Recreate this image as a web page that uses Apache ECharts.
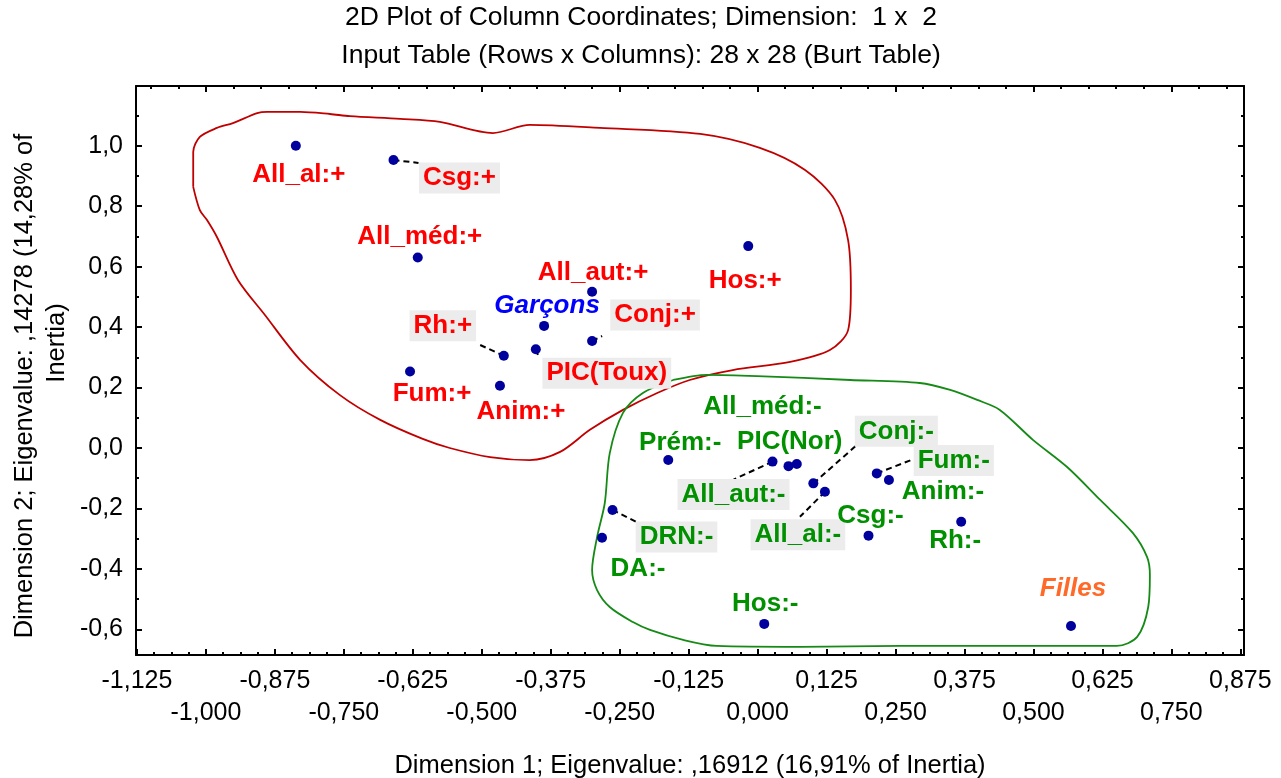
<!DOCTYPE html>
<html><head><meta charset="utf-8">
<script src="https://cdn.jsdelivr.net/npm/echarts@6/dist/echarts.min.js"></script>
<style>html,body{margin:0;padding:0;background:#fff}#c{width:1281px;height:778px}</style>
</head><body><div id="c"></div>
<script>
const FONT = '"Liberation Sans", Arial, sans-serif';

// "+" modalities (Garçons side)
const redNames = ['All_al:+','Csg:+','All_méd:+','All_aut:+','Conj:+','PIC(Toux)','Rh:+','Fum:+','Anim:+','Hos:+'];
const redX = [-0.837,-0.660,-0.616,-0.300,-0.300,-0.402,-0.460,-0.630,-0.467,-0.017];
const redY = [1.000,0.953,0.630,0.517,0.354,0.327,0.305,0.253,0.206,0.668];

// "-" modalities (Filles side)
const greenNames = ['Prém:-','All_aut:-','All_méd:-','PIC(Nor)','Conj:-','All_al:-','Fum:-','Anim:-','Csg:-','Rh:-','DRN:-','DA:-','Hos:-'];
const greenX = [-0.162,0.027,0.056,0.071,0.101,0.122,0.216,0.238,0.201,0.369,-0.263,-0.282,0.012];
const greenY = [-0.040,-0.045,-0.060,-0.053,-0.117,-0.145,-0.084,-0.106,-0.290,-0.244,-0.205,-0.297,-0.582];

// sex modalities
const sexNames = ['Garçons','Filles'];
const sexX = [-0.387,0.568];
const sexY = [0.404,-0.589];

// hand-drawn group outlines (data coordinates)
const redHullX = [-1.023,-1.023,-1.011,-0.980,-0.951,-0.907,-0.889,-0.829,-0.775,-0.739,-0.648,-0.576,-0.480,-0.413,-0.286,-0.104,0.004,0.086,0.140,0.164,0.169,0.164,0.131,0.059,-0.045,-0.123,-0.182,-0.244,-0.304,-0.358,-0.413,-0.485,-0.558,-0.607,-0.684,-0.757,-0.829,-0.893,-0.942,-0.980,-0.998,-1.011,-1.023];
const redHullY = [0.864,0.979,1.029,1.059,1.075,1.108,1.112,1.112,1.105,1.098,1.089,1.079,1.042,1.069,1.059,1.039,0.993,0.920,0.821,0.688,0.523,0.390,0.324,0.285,0.258,0.225,0.182,0.126,0.060,-0.013,-0.040,-0.030,0.000,0.030,0.093,0.175,0.291,0.440,0.556,0.698,0.754,0.787,0.864];
const greenHullX = [-0.153,-0.092,-0.001,0.168,0.294,0.349,0.398,0.439,0.499,0.561,0.621,0.680,0.706,0.711,0.708,0.688,0.651,0.258,0.077,-0.074,-0.135,-0.195,-0.226,-0.268,-0.291,-0.300,-0.291,-0.277,-0.268,-0.244,-0.208,-0.153];
const greenHullY = [0.225,0.242,0.238,0.225,0.215,0.192,0.159,0.126,0.027,-0.063,-0.172,-0.281,-0.361,-0.420,-0.526,-0.625,-0.655,-0.655,-0.658,-0.655,-0.635,-0.602,-0.576,-0.526,-0.470,-0.404,-0.295,-0.182,-0.017,0.116,0.182,0.225];

// tick labels
const xTickRow1 = [-1.125,-0.875,-0.625,-0.375,-0.125,0.125,0.375,0.625,0.875];
const xTickRow2 = [-1.0,-0.75,-0.5,-0.25,0.0,0.25,0.5,0.75];
const yTicks = [-0.6,-0.4,-0.2,0.0,0.2,0.4,0.6,0.8,1.0];

// layout: label offsets in px from point, boxed labels, leader lines
const redOffsets = [[3,29],[66,18],[2,-21],[1,-19],[63,-26],[71,24],[-61,-30],[22,22],[21,26],[-3,35]];
const redBoxed = [false,true,false,false,true,true,true,false,false,false];
const greenOffsets = [[12,-17],[-39,33],[-26,-59],[-7,-22],[83,-52],[-27,43],[77,-13],[54,12],[2,-20],[-6,19],[64,27],[36,31],[1,-20]];
const greenBoxed = [false,true,false,false,true,true,true,false,false,false,true,false,false];
const sexOffsets = [[3,-20],[2,-37]];
const leaderNames = ['Csg:+','Conj:+','Rh:+','PIC(Toux)','All_aut:-','Conj:-','All_al:-','Fum:-','DRN:-'];
const leaderEnds = [[25,3],[10,-5],[-24,-11],[3,8],[-39,18],[42,-37],[-25,25],[36,-14],[24,12]];

const XMIN = -1.1267, XMAX = 0.8816, YMIN = -0.6849, YMAX = 1.1977;

function range(a, b, step, exclude) {
  const out = [];
  for (let i = 0; a + i * step <= b + 1e-9; i++) {
    const v = +(a + i * step).toFixed(6);
    if (!exclude.some(e => Math.abs(e - v) < 1e-6)) out.push(v);
  }
  return out;
}
const xMajorAll = xTickRow1.concat(xTickRow2);
const xMinorBottom = range(-1.125, 0.875, 0.03125, xMajorAll);
const xMinorTop = range(-1.1, 0.85, 0.05, xTickRow2);
const yMinor = range(-0.6, 1.1, 0.1, yTicks);

const blk = {color: '#000', width: 2};
function xAx(position, ticks, len, labels, margin, showLine) {
  return {
    type: 'value', min: XMIN, max: XMAX, position: position,
    axisLine: {show: showLine, onZero: false, lineStyle: blk},
    axisTick: {show: ticks.length > 0, inside: true, length: len, customValues: ticks, lineStyle: blk},
    axisLabel: labels ? {show: true, customValues: labels, margin: margin, fontSize: 25, fontFamily: FONT, color: '#000',
      formatter: v => v.toFixed(3).replace('.', ',')} : {show: false},
    splitLine: {show: false}
  };
}
function yAx(position, ticks, len, labels, showLine) {
  return {
    type: 'value', min: YMIN, max: YMAX, position: position,
    axisLine: {show: showLine, onZero: false, lineStyle: blk},
    axisTick: {show: true, inside: true, length: len, customValues: ticks, lineStyle: blk},
    axisLabel: labels ? {show: true, customValues: labels, margin: 13, fontSize: 25, fontFamily: FONT, color: '#000',
      formatter: v => v.toFixed(1).replace('.', ',')} : {show: false},
    splitLine: {show: false}
  };
}

function pts(names, xs, ys, boxed, colors) {
  return names.map((n, i) => {
    const lab = (boxed && boxed[i]) ? {backgroundColor: '#ececec', padding: [2, 4, 3, 4]} : {};
    if (colors) lab.color = colors[i];
    return {name: n, value: [xs[i], ys[i]], label: lab};
  });
}
function zip(xs, ys) { return xs.map((x, i) => [x, ys[i]]); }
function findPoint(n) {
  let i = redNames.indexOf(n);
  if (i >= 0) return [redX[i], redY[i]];
  i = greenNames.indexOf(n);
  return [greenX[i], greenY[i]];
}

const labelBase = {show: true, position: 'inside', formatter: '{b}', fontSize: 26, fontWeight: 'bold', fontFamily: FONT, lineHeight: 26};
const dotStyle = {color: '#00009c', opacity: 1};
const txt = (t, x, y, size, rot) => ({type: 'text', x: x, y: y, rotation: rot || 0,
  style: {text: t, font: size + 'px ' + FONT, fill: '#000', textAlign: 'center', textVerticalAlign: 'middle', align: 'center', verticalAlign: 'middle'}});

const chart = echarts.init(document.getElementById('c'), null, {renderer: 'canvas'});
chart.setOption({
  animation: false,
  backgroundColor: '#fff',
  grid: {left: 136, right: 37, top: 86, bottom: 123, containLabel: false},
  xAxis: [
    xAx('bottom', xMajorAll, 6, xTickRow1, 14, true),
    xAx('bottom', [], 0, xTickRow2, 46, false),
    xAx('bottom', xMinorBottom, 3, null, 0, false),
    xAx('top', xTickRow2, 6, null, 0, true),
    xAx('top', xMinorTop, 3, null, 0, false)
  ],
  yAxis: [
    yAx('left', yTicks, 6, yTicks, true),
    yAx('left', yMinor, 3, null, false),
    yAx('right', yTicks, 6, null, true),
    yAx('right', yMinor, 3, null, false)
  ],
  graphic: [
    txt('2D Plot of Column Coordinates; Dimension:  1 x  2', 641, 18, 26.5),
    txt('Input Table (Rows x Columns): 28 x 28 (Burt Table)', 641, 56, 26.5),
    txt('Dimension 1; Eigenvalue: ,16912 (16,91% of Inertia)', 690, 766, 25.5),
    txt('Dimension 2; Eigenvalue: ,14278 (14,28% of', 25, 386, 25.5, Math.PI / 2),
    txt('Inertia)', 57, 343, 25.5, Math.PI / 2)
  ],
  series: [
    {type: 'line', data: zip(redHullX, redHullY), smooth: 0.3, symbol: 'none', silent: true, z: 1,
      lineStyle: {color: '#c00000', width: 1.8}},
    {type: 'line', data: zip(greenHullX, greenHullY), smooth: 0.3, symbol: 'none', silent: true, z: 1,
      lineStyle: {color: '#168a16', width: 1.8}},
    {type: 'custom', silent: true, z: 2, data: leaderNames.map(findPoint),
      renderItem: (params, api) => {
        const p = api.coord([api.value(0), api.value(1)]);
        const o = leaderEnds[params.dataIndex];
        return {type: 'line', shape: {x1: p[0], y1: p[1], x2: p[0] + o[0], y2: p[1] + o[1]},
          style: {stroke: '#000', lineWidth: 2, lineDash: [6, 4], fill: null}};
      }},
    {type: 'scatter', data: pts(redNames, redX, redY, redBoxed), symbolSize: 10, itemStyle: dotStyle, z: 3,
      label: Object.assign({}, labelBase, {color: '#ff0000'}),
      labelLayout: p => ({dx: redOffsets[p.dataIndex][0], dy: redOffsets[p.dataIndex][1]})},
    {type: 'scatter', data: pts(greenNames, greenX, greenY, greenBoxed), symbolSize: 10, itemStyle: dotStyle, z: 3,
      label: Object.assign({}, labelBase, {color: '#009000'}),
      labelLayout: p => ({dx: greenOffsets[p.dataIndex][0], dy: greenOffsets[p.dataIndex][1]})},
    {type: 'scatter', data: pts(sexNames, sexX, sexY, null, ['#0000ff', '#ff6a28']), symbolSize: 10, itemStyle: dotStyle, z: 3,
      label: Object.assign({}, labelBase, {fontStyle: 'italic'}),
      labelLayout: p => ({dx: sexOffsets[p.dataIndex][0], dy: sexOffsets[p.dataIndex][1]})}
  ]
});
</script></body></html>
